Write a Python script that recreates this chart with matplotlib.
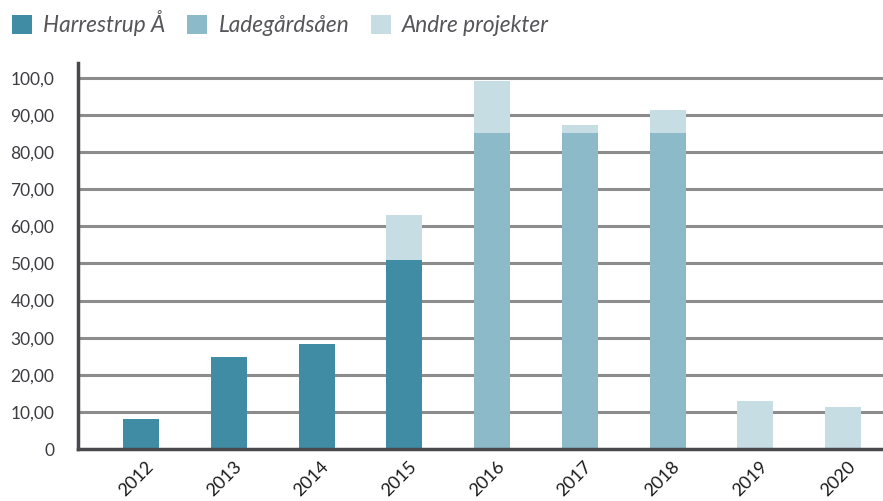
import matplotlib
matplotlib.use("Agg")
import matplotlib.pyplot as plt
import numpy as np
from matplotlib.patches import Patch

plt.rcParams['font.family'] = ['Lato', 'DejaVu Sans']

years = ["2012", "2013", "2014", "2015", "2016", "2017", "2018", "2019", "2020"]
harrestrup = [8.0, 24.7, 28.4, 51.0, 0, 0, 0, 0, 0]
ladegaard = [0, 0, 0, 0, 85.2, 85.2, 85.2, 0, 0]
andre = [0, 0, 0, 12.1, 14.0, 2.1, 6.1, 12.9, 11.3]
yticks = [0, 10, 20, 30, 40, 50, 60, 70, 80, 90, 100]
ytick_labels = ["0", "10,00", "20,00", "30,00", "40,00", "50,00", "60,00", "70,00", "80,00", "90,00", "100,0"]
series_names = ["Harrestrup Å", "Ladegårdsåen", "Andre projekter"]
colors = ["#408ca5", "#8dbac9", "#c6dde3"]

W, H = 883, 501
fig = plt.figure(figsize=(W / 100, H / 100), dpi=100)
ax = fig.add_axes([78 / W, (H - 449) / H, 1 - 78 / W, (449 - 63) / H])

x = np.arange(len(years))
width = 0.41
h = np.array(harrestrup)
l = np.array(ladegaard)
a = np.array(andre)
ax.bar(x, h, width, color=colors[0], zorder=3)
ax.bar(x, l, width, bottom=h, color=colors[1], zorder=3)
ax.bar(x, a, width, bottom=h + l, color=colors[2], zorder=3)

ax.set_xlim(-0.72, 8.455)
ax.set_ylim(0, 104)
ax.set_yticks(yticks)
ax.set_yticklabels(ytick_labels)
ax.set_xticks(x)
ax.set_xticklabels(years, rotation=45, ha='center', va='top')

for yv in yticks[1:]:
    ax.axhline(yv, color="#8c8c8c", lw=2.2, zorder=1)

for s in ['top', 'right']:
    ax.spines[s].set_visible(False)
ax.spines['left'].set_color('#48484d')
ax.spines['left'].set_linewidth(2.5)
ax.spines['bottom'].set_color('#48484d')
ax.spines['bottom'].set_linewidth(2.5)
ax.spines['bottom'].set_zorder(4)

ax.tick_params(axis='y', length=0, pad=17, labelsize=12.5, labelcolor='#3c3c42')
ax.tick_params(axis='x', length=0, pad=7, labelsize=13, labelcolor='#1a1a1a')
offset = matplotlib.transforms.ScaledTranslation(-5 / 100, 0, fig.dpi_scale_trans)
for lab in ax.get_xticklabels():
    lab.set_transform(lab.get_transform() + offset)

handles = [Patch(facecolor=c, edgecolor='none') for c in colors]
leg = fig.legend(handles, series_names, loc='upper left', bbox_to_anchor=(2 / W, 1.0),
                 ncol=3, frameon=False, prop={'style': 'italic', 'size': 16.3},
                 handlelength=0.88, handleheight=0.88, handletextpad=0.5,
                 columnspacing=0.95, borderaxespad=0.15, borderpad=0.3,
                 labelcolor='#55555a')

fig.savefig("out.png", dpi=100)
